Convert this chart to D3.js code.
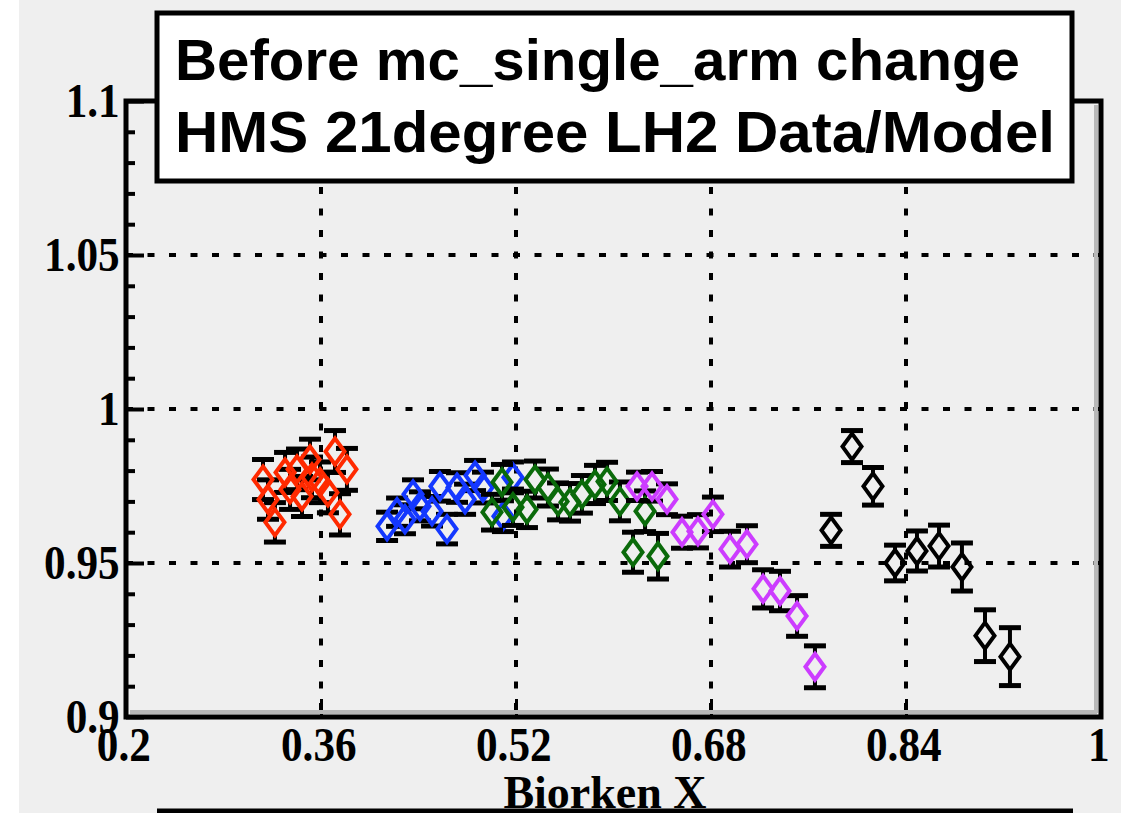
<!DOCTYPE html>
<html>
<head>
<meta charset="utf-8">
<script src="https://cdn.jsdelivr.net/npm/d3@7/dist/d3.min.js"></script>
<style>
html,body{margin:0;padding:0;background:#fff;}
svg{display:block;}
</style>
</head>
<body>
<svg id="chart" width="1121" height="813"></svg>
<script>
// ---------------- data ----------------
const titleLines = ["Before mc_single_arm change", "HMS 21degree LH2 Data/Model"];
const xAxisTitle = "Biorken X";
const xTickValues = [0.2, 0.36, 0.52, 0.68, 0.84, 1.0];
const xTickLabels = ["0.2", "0.36", "0.52", "0.68", "0.84", "1"];
const yTickValues = [0.9, 0.95, 1.0, 1.05, 1.1];
const yTickLabels = ["0.9", "0.95", "1", "1.05", "1.1"];

const redX   = [0.3124, 0.3165, 0.3222, 0.3305, 0.3346, 0.3403, 0.3444, 0.3510, 0.3526, 0.3592, 0.3657, 0.3715, 0.3756, 0.3813];
const redY   = [0.9771, 0.9706, 0.9632, 0.9794, 0.9739, 0.9804, 0.9716, 0.9836, 0.9778, 0.9762, 0.9729, 0.9862, 0.9658, 0.9804];
const redErr = [0.0065, 0.0064, 0.0064, 0.0065, 0.0065, 0.0066, 0.0065, 0.0066, 0.0066, 0.0066, 0.0066, 0.0068, 0.0067, 0.0068];

const blueX   = [0.4142, 0.4224, 0.4289, 0.4355, 0.4412, 0.4511, 0.4576, 0.4634, 0.4716, 0.4782, 0.4864, 0.4929, 0.5093, 0.5175];
const blueY   = [0.9619, 0.9665, 0.9642, 0.9723, 0.9684, 0.9668, 0.9749, 0.9610, 0.9745, 0.9707, 0.9784, 0.9745, 0.9652, 0.9778];
const blueErr = [0.0046, 0.0046, 0.0047, 0.0047, 0.0047, 0.0048, 0.0048, 0.0048, 0.0048, 0.0049, 0.0049, 0.0050, 0.0050, 0.0050];

const greenX   = [0.5003, 0.5085, 0.5175, 0.5290, 0.5356, 0.5462, 0.5545, 0.5643, 0.5741, 0.5848, 0.5947, 0.6053, 0.6160, 0.6259, 0.6365];
const greenY   = [0.9665, 0.9762, 0.9681, 0.9674, 0.9771, 0.9745, 0.9700, 0.9697, 0.9723, 0.9755, 0.9765, 0.9700, 0.9535, 0.9668, 0.9522];
const greenErr = [0.0058, 0.0058, 0.0059, 0.0059, 0.0060, 0.0060, 0.0060, 0.0061, 0.0061, 0.0062, 0.0062, 0.0063, 0.0065, 0.0066, 0.0074];

const magentaX   = [0.6193, 0.6316, 0.6439, 0.6562, 0.6693, 0.6816, 0.6956, 0.7095, 0.7227, 0.7366, 0.7506, 0.7653];
const magentaY   = [0.9749, 0.9749, 0.9707, 0.9600, 0.9603, 0.9658, 0.9545, 0.9561, 0.9416, 0.9409, 0.9328, 0.9163];
const magentaErr = [0.0046, 0.0048, 0.0050, 0.0052, 0.0054, 0.0056, 0.0058, 0.0060, 0.0062, 0.0064, 0.0066, 0.0068];

const blackX   = [0.7785, 0.7957, 0.8129, 0.8310, 0.8490, 0.8671, 0.8859, 0.9048, 0.9253];
const blackY   = [0.9606, 0.9878, 0.9749, 0.9500, 0.9539, 0.9555, 0.9487, 0.9264, 0.9196];
const blackErr = [0.0052, 0.0052, 0.0061, 0.0058, 0.0065, 0.0068, 0.0078, 0.0084, 0.0094];

const seriesColors = ["#ff2a00", "#1438ff", "#0a6a0a", "#cc3cff", "#000000"];

// ---------------- layout ----------------
const svg = d3.select("#chart");
const W = 1121, H = 813;
const frame = {left: 126, right: 1101, top: 101, bottom: 717};
const serif = "'Liberation Serif','Times New Roman',serif";

svg.append("rect").attr("x", 19).attr("y", 0).attr("width", W - 19).attr("height", H).attr("fill", "#efefef");

const x = d3.scaleLinear().domain([0.2, 1.0]).range([frame.left, frame.right]);
const y = d3.scaleLinear().domain([0.9, 1.1]).range([frame.bottom, frame.top]);

// grid
const grid = svg.append("g").attr("stroke", "#000").attr("stroke-width", 4).attr("stroke-dasharray", "7,14.5");
grid.selectAll("line.vx").data(xTickValues.slice(1, -1)).enter().append("line")
  .attr("x1", d => x(d)).attr("x2", d => x(d)).attr("y1", frame.top).attr("y2", frame.bottom);
grid.selectAll("line.hy").data(yTickValues.slice(1, -1)).enter().append("line")
  .attr("x1", frame.left).attr("x2", frame.right).attr("y1", d => y(d)).attr("y2", d => y(d));

// x axis (ticks inward)
const xAxis = d3.axisBottom(x).tickValues(xTickValues)
  .tickFormat((d, i) => xTickLabels[i]).tickSizeInner(-18).tickSizeOuter(0);
const gx = svg.append("g").attr("transform", `translate(0,${frame.bottom})`).call(xAxis);
gx.select(".domain").remove();
gx.selectAll(".tick line").attr("stroke", "#000").attr("stroke-width", 3);
gx.selectAll(".tick text").attr("font-family", serif)
  .attr("font-weight", "bold").attr("font-size", 48).attr("fill", "#000")
  .attr("y", 44).attr("dy", 0).attr("x", -3)
  .attr("transform", "scale(0.9,1)");

// y axis minor + major ticks inward
const yMinor = d3.range(0, 21).map(i => 0.9 + i * 0.01);
const isMajor = d => yTickValues.some(v => Math.abs(v - d) < 1e-6);
const yAxis = d3.axisLeft(y).tickValues(yMinor)
  .tickFormat(d => { const k = yTickValues.findIndex(v => Math.abs(v - d) < 1e-6); return k >= 0 ? yTickLabels[k] : ""; })
  .tickSizeInner(-9).tickSizeOuter(0);
const gy = svg.append("g").attr("transform", `translate(${frame.left},0)`).call(yAxis);
gy.select(".domain").remove();
gy.selectAll(".tick line").attr("stroke", "#000").attr("stroke-width", 4)
  .attr("x2", d => isMajor(d) ? 18 : 9);
gy.selectAll(".tick text").attr("font-family", serif)
  .attr("font-weight", "bold").attr("font-size", 48).attr("fill", "#000")
  .attr("x", -7).attr("dy", "0.33em")
  .attr("transform", "scale(0.9,1)");

// frame with slight 3D shading on bottom/right
svg.append("line").attr("x1", frame.left + 4).attr("x2", frame.right - 4).attr("y1", frame.bottom - 5).attr("y2", frame.bottom - 5)
  .attr("stroke", "#b8b8b8").attr("stroke-width", 4);
svg.append("line").attr("x1", frame.right - 5).attr("x2", frame.right - 5).attr("y1", frame.top + 4).attr("y2", frame.bottom - 4)
  .attr("stroke", "#b8b8b8").attr("stroke-width", 4);
svg.append("rect").attr("x", frame.left).attr("y", frame.top)
  .attr("width", frame.right - frame.left).attr("height", frame.bottom - frame.top)
  .attr("fill", "none").attr("stroke", "#000").attr("stroke-width", 5);

// ---------------- points ----------------
const hw = 9.5, hh = 13; // diamond half width / half height
const diamond = `M0,${-hh}L${hw},0L0,${hh}L${-hw},0Z`;
const series = [
  {xs: redX, ys: redY, es: redErr, color: seriesColors[0]},
  {xs: blueX, ys: blueY, es: blueErr, color: seriesColors[1]},
  {xs: greenX, ys: greenY, es: greenErr, color: seriesColors[2]},
  {xs: magentaX, ys: magentaY, es: magentaErr, color: seriesColors[3]},
  {xs: blackX, ys: blackY, es: blackErr, color: seriesColors[4]}
];

const plot = svg.append("g");
series.forEach(s => {
  const pts = s.xs.map((xv, i) => ({x: xv, y: s.ys[i], e: s.es[i]}));
  const g = plot.append("g");
  const eb = g.selectAll("g.eb").data(pts).enter().append("g");
  eb.append("line").attr("x1", d => x(d.x)).attr("x2", d => x(d.x))
    .attr("y1", d => y(d.y + d.e)).attr("y2", d => Math.max(y(d.y + d.e), y(d.y) - hh))
    .attr("stroke", "#000").attr("stroke-width", 4);
  eb.append("line").attr("x1", d => x(d.x)).attr("x2", d => x(d.x))
    .attr("y1", d => Math.min(y(d.y - d.e), y(d.y) + hh)).attr("y2", d => y(d.y - d.e))
    .attr("stroke", "#000").attr("stroke-width", 4);
  eb.append("line").attr("x1", d => x(d.x) - 11).attr("x2", d => x(d.x) + 11)
    .attr("y1", d => y(d.y + d.e)).attr("y2", d => y(d.y + d.e))
    .attr("stroke", "#000").attr("stroke-width", 5);
  eb.append("line").attr("x1", d => x(d.x) - 11).attr("x2", d => x(d.x) + 11)
    .attr("y1", d => y(d.y - d.e)).attr("y2", d => y(d.y - d.e))
    .attr("stroke", "#000").attr("stroke-width", 5);
  g.selectAll("path.mk").data(pts).enter().append("path")
    .attr("d", diamond)
    .attr("transform", d => `translate(${x(d.x)},${y(d.y)})`)
    .attr("fill", "none").attr("stroke", s.color).attr("stroke-width", 4);
});

// ---------------- title box ----------------
svg.append("rect").attr("x", 157).attr("y", 13).attr("width", 915).attr("height", 168)
  .attr("fill", "#fff").attr("stroke", "#000").attr("stroke-width", 5);
const tl = svg.append("g").attr("font-family", "'Liberation Sans',Arial,Helvetica,sans-serif")
  .attr("font-weight", "bold").attr("font-size", 58).attr("fill", "#000");
tl.append("text").attr("x", 175).attr("y", 80).attr("textLength", 845).attr("lengthAdjust", "spacingAndGlyphs").text(titleLines[0]);
tl.append("text").attr("x", 175).attr("y", 152).attr("textLength", 880).attr("lengthAdjust", "spacingAndGlyphs").text(titleLines[1]);

// ---------------- x axis title + cut-off box below ----------------
svg.append("text").attr("x", 605).attr("y", 808).attr("text-anchor", "middle")
  .attr("font-family", serif).attr("font-weight", "bold")
  .attr("font-size", 46).attr("fill", "#000").text(xAxisTitle);
svg.append("line").attr("x1", 157).attr("x2", 1073).attr("y1", 811).attr("y2", 811)
  .attr("stroke", "#000").attr("stroke-width", 5);
</script>
</body>
</html>
